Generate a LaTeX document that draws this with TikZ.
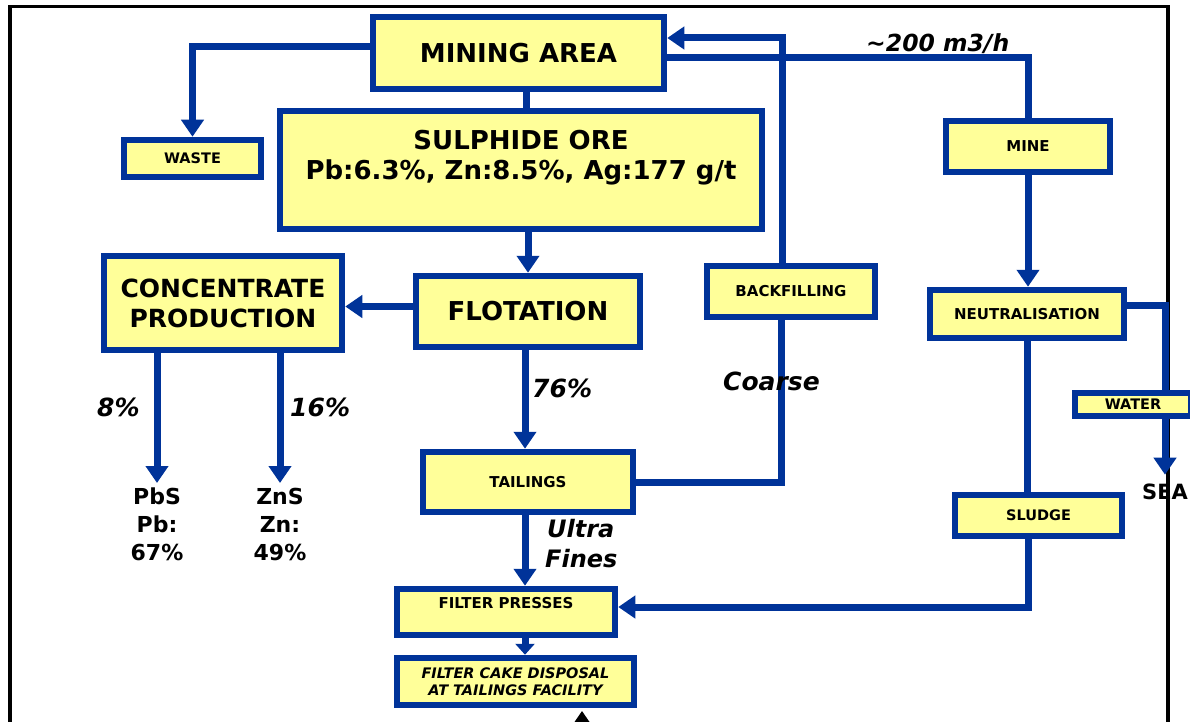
\documentclass[tikz,border=0pt]{standalone}
\usepackage{fontspec}
\setmainfont{DejaVu Sans}
\usetikzlibrary{arrows.meta,backgrounds}
\definecolor{myblue}{RGB}{0,51,153}
\definecolor{myyellow}{RGB}{255,255,153}
\begin{document}
\begin{tikzpicture}[x=1pt,y=-1pt,
  box/.style={draw=myblue, fill=myyellow, line width=6.5pt, inner sep=0pt, align=center, text=black},
  big/.style={font=\fontsize{26}{30}\selectfont\bfseries},
  small/.style={font=\fontsize{15}{18}\selectfont\bfseries},
  conn/.style={draw=myblue, line width=7pt},
  arr/.style={conn, -{Triangle[width=22pt,length=17pt]}},
  lbl/.style={font=\fontsize{24}{28}\selectfont\bfseries\itshape, inner sep=0pt, anchor=base west},
  txt/.style={font=\fontsize{22}{28}\selectfont\bfseries, inner sep=0pt, align=center}]
\useasboundingbox (0,0) rectangle (1190,722);

% boxes
\node[box, big, minimum width=291pt, minimum height=72pt] (mining) at (518.5,53) {MINING AREA};
\node[box, small, minimum width=137pt, minimum height=37pt, font=\fontsize{14.5}{18}\selectfont\bfseries] (waste) at (192.5,158.5) {WASTE};
\node[box, big, minimum width=482pt, minimum height=118pt] (ore) at (521,170) {SULPHIDE ORE\\Pb:6.3\%, Zn:8.5\%, Ag:177 g/t\\\mbox{}};
\node[box, big, minimum width=224pt, minimum height=71pt] (flot) at (528,311.5) {FLOTATION};
\node[box, minimum width=238pt, minimum height=94pt, font=\fontsize{25}{30}\selectfont\bfseries] (conc) at (223,303) {CONCENTRATE\\PRODUCTION};
\node[box, small, minimum width=168pt, minimum height=51pt] (back) at (791,291.5) {BACKFILLING};
\node[box, small, minimum width=164pt, minimum height=51pt] (mine) at (1028,146.5) {MINE};
\node[box, small, minimum width=194pt, minimum height=48pt] (neut) at (1027,314) {NEUTRALISATION};
\node[box, small, minimum width=116pt, minimum height=23pt, font=\fontsize{14.5}{18}\selectfont\bfseries] (water) at (1133,404.5) {WATER};
\node[box, small, minimum width=210pt, minimum height=60pt] (tail) at (528,482) {TAILINGS};
\node[box, small, minimum width=167pt, minimum height=41pt, font=\fontsize{14.5}{18}\selectfont\bfseries] (sludge) at (1038.5,515.5) {SLUDGE};
\node[box, small, minimum width=218pt, minimum height=46pt, text height=11pt, text depth=18pt, align=none] (fp) at (506,612) {FILTER PRESSES};
\node[box, minimum width=237pt, minimum height=47pt, font=\fontsize{14.5}{17}\selectfont\bfseries\itshape] (cake) at (515.5,681.5) {FILTER CAKE DISPOSAL\\AT TAILINGS FACILITY};

% texts
\node[txt, anchor=north] (pbs) at (157,488) {PbS\\Pb:\\67\%};
\node[txt, anchor=north] (zns) at (280,488) {ZnS\\Zn:\\49\%};
\node[txt, font=\fontsize{21}{25}\selectfont\bfseries, anchor=base] (sea) at (1165,499) {SEA};
\node[lbl, font=\fontsize{23.5}{27}\selectfont\bfseries\itshape] (flow) at (866,52) {\textasciitilde200 m3/h};
\node[lbl, font=\fontsize{25}{28}\selectfont\bfseries\itshape] (p8) at (97,416) {8\%};
\node[lbl, font=\fontsize{25}{28}\selectfont\bfseries\itshape] (p16) at (290,416) {16\%};
\node[lbl, font=\fontsize{25}{28}\selectfont\bfseries\itshape] (p76) at (532,397) {76\%};
\node[lbl, font=\fontsize{25}{28}\selectfont\bfseries\itshape] (coarse) at (723,390) {Coarse};
\node[lbl] (ultra) at (547,537) {Ultra};
\node[lbl] (fines) at (545,567) {Fines};

\coordinate (bot) at (582,770);

\begin{scope}[on background layer]
  % frame
  \draw[black, line width=3.5pt] (10,780) -- (10,6.5) -- (1168,6.5) -- (1168,780);
  % connectors
  \draw[arr] ([yshift=6pt]mining.west) -| (waste.north);
  \draw[conn] ([xshift=8pt]mining.south) -- ([xshift=8pt]mining.south |- ore.north);
  \draw[arr] (flot.north |- ore.south) -- (flot.north);
  \draw[arr] ([yshift=5pt]flot.west) -- ([yshift=5pt]flot.west -| conc.east);
  \draw[arr, shorten >=5pt] (conc.south -| pbs.north) -- (pbs.north);
  \draw[arr, shorten >=5pt] (conc.south -| zns.north) -- (zns.north);
  \draw[arr] ([xshift=-3pt]flot.south) -- ([xshift=-3pt]flot.south |- tail.north);
  \draw[conn] (tail.east) -| ([xshift=-10pt]back.south);
  \draw[arr] ([xshift=-9pt]back.north) |- ([yshift=15pt]mining.east);
  \draw[conn] ([yshift=-5pt]mining.east) -| (mine.north);
  \draw[arr] (mine.south) -- (mine.south |- neut.north);
  \draw[arr, shorten >=8.5pt] ([yshift=9pt]neut.east) -| (sea.north);
  \draw[conn] (neut.south) -- (neut.south |- sludge.north);
  \draw[arr] ([xshift=-10.5pt]sludge.south) |- ([yshift=5pt]fp.east);
  \draw[arr] ([xshift=-3pt]tail.south) -- ([xshift=-3pt]tail.south |- fp.north);
  \draw[conn, -{Triangle[width=19pt,length=11pt]}] ([xshift=19pt,yshift=8pt]fp.south) -- ([xshift=19pt]fp.south |- cake.north);
  \draw[black, line width=2pt, -{Triangle[width=20pt,length=15pt]}] (bot) -- (bot |- 0,711);
\end{scope}
\end{tikzpicture}
\end{document}
